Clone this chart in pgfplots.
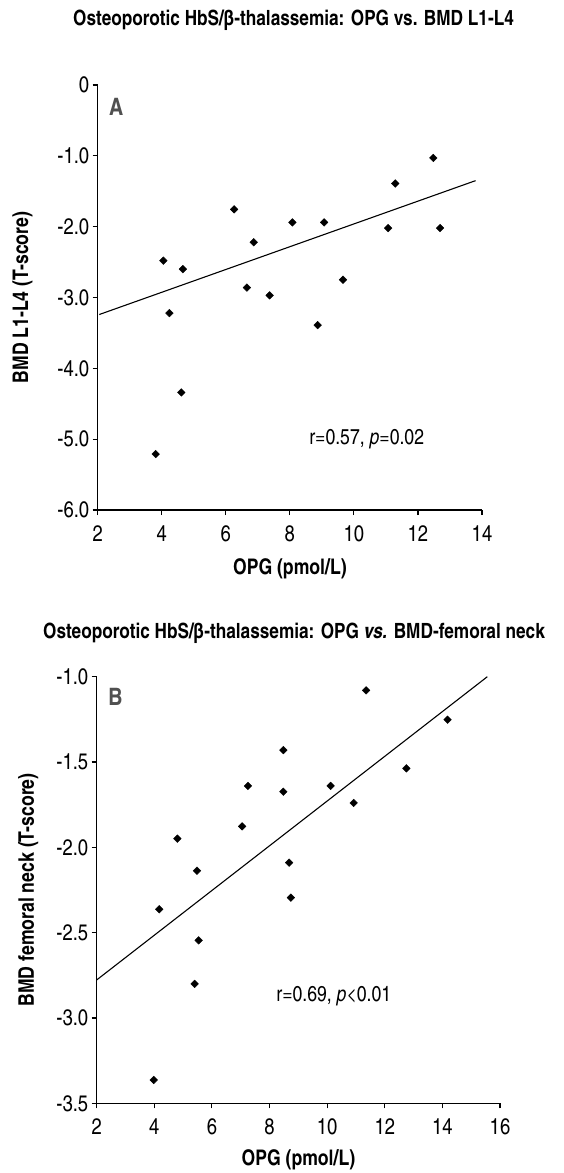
\documentclass[border=0pt]{standalone}
\usepackage{fontspec}
\setmainfont{texgyreheroscn}[Extension=.otf, UprightFont=*-regular, BoldFont=*-bold, ItalicFont=*-italic, BoldItalicFont=*-bolditalic]
\usepackage{pgfplots}
\pgfplotsset{compat=1.18}
\definecolor{panelgray}{RGB}{80,80,80}

\pgfplotsset{
  panel/.style={
    scale only axis, anchor=south west, clip=false,
    axis lines*=left, tick align=outside, major tick length=5pt,
    axis line style={black, line width=1.1pt},
    tick style={black, line width=1.1pt},
    tick label style={font=\fontsize{22.5}{24}\selectfont},
    xticklabel style={yshift=-7pt},
    label style={font=\fontsize{21.5}{24}\selectfont\bfseries},
  },
  pts/.style={only marks, mark=square*, mark size=2.7pt,
    mark options={rotate=45, fill=black, draw=black}},
  fit/.style={black, line width=1.1pt, no marks},
}

\begin{document}
\begin{tikzpicture}[x=1pt, y=1pt]
\path[use as bounding box] (0,0) rectangle (564,-1173);

\node[font=\fontsize{21}{24}\selectfont\bfseries] at (293.5,-20)
  {Osteoporotic HbS/β-thalassemia: OPG vs. BMD L1-L4};
\node[font=\fontsize{21}{24}\selectfont\bfseries] at (294,-633)
  {Osteoporotic HbS/β-thalassemia: OPG \textit{vs.} BMD-femoral neck};

% panel A
\begin{axis}[panel, at={(97.7pt,-510pt)}, width=384.3pt, height=425pt,
  xmin=2, xmax=14, ymin=-6, ymax=0,
  xtick={2,4,...,14}, xticklabels={2,4,6,8,10,12,14},
  ytick={-6,-5,...,0}, yticklabels={-6.0,-5.0,-4.0,-3.0,-2.0,-1.0,0},
  xlabel={OPG (pmol/L)}, ylabel={BMD L1-L4 (T-score)},
  xlabel style={at={(axis description cs:0.5,-0.1375)}, anchor=center},
  ylabel style={at={(axis description cs:-0.196,0.5)}, anchor=center},
]
\addplot[pts] coordinates {
  (3.81,-5.21)(4.05,-2.48)(4.24,-3.22)(4.61,-4.34)(4.66,-2.60)
  (6.26,-1.755)(6.66,-2.86)(6.87,-2.22)(7.37,-2.97)(8.08,-1.94)
  (8.87,-3.39)(9.07,-1.94)(9.66,-2.75)(11.07,-2.02)(11.29,-1.39)
  (12.48,-1.03)(12.69,-2.02)
};
\addplot[fit] coordinates {(2.05,-3.24)(13.8,-1.35)};
\node[font=\fontsize{21.5}{24}\selectfont] at (axis cs:10.4,-5.0) {r=0.57, \textit{p}=0.02};
\node[font=\fontsize{24}{26}\selectfont\bfseries, text=panelgray] at (axis cs:2.58,-0.31) {A};
\end{axis}

% panel B
\begin{axis}[panel, at={(96.7pt,-1103.3pt)}, width=403.3pt, height=426.6pt,
  xmin=2, xmax=16, ymin=-3.5, ymax=-1,
  xtick={2,4,...,16}, xticklabels={2,4,6,8,10,12,14,16},
  ytick={-3.5,-3,...,-1}, yticklabels={-3.5,-3.0,-2.5,-2.0,-1.5,-1.0},
  xlabel={OPG (pmol/L)}, ylabel={BMD femoral neck (T-score)},
  xlabel style={at={(axis description cs:0.5,-0.132)}, anchor=center},
  ylabel style={at={(axis description cs:-0.17,0.5)}, anchor=center},
]
\addplot[pts] coordinates {
  (3.98,-3.363)(4.17,-2.363)(4.80,-1.949)(5.40,-2.80)(5.48,-2.137)
  (5.54,-2.545)(7.05,-1.877)(7.25,-1.64)(8.48,-1.43)(8.48,-1.674)
  (8.68,-2.09)(8.74,-2.295)(10.12,-1.64)(10.92,-1.74)(11.35,-1.08)
  (12.75,-1.537)(14.18,-1.252)
};
\addplot[fit] coordinates {(2,-2.777)(15.56,-1.0)};
\node[font=\fontsize{21.5}{24}\selectfont] at (axis cs:10.23,-2.875) {r=0.69, \textit{p}<0.01};
\node[font=\fontsize{24}{26}\selectfont\bfseries, text=panelgray] at (axis cs:2.65,-1.117) {B};
\end{axis}
\end{tikzpicture}
\end{document}
